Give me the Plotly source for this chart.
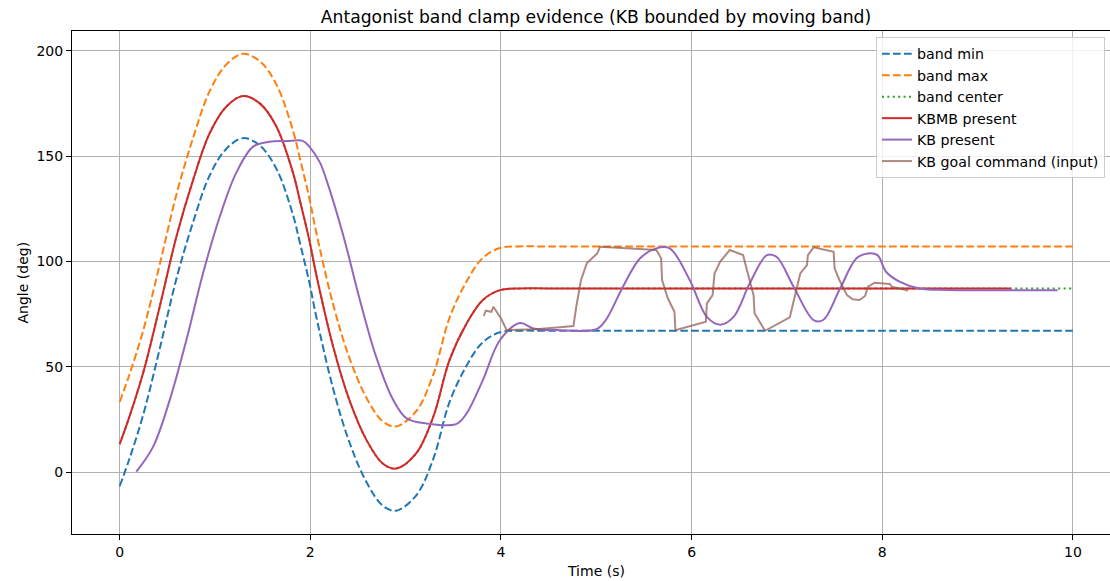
import plotly.graph_objects as go

# ---- data ----
center_t = [0, 0.1, 0.245, 0.42, 0.595, 0.77, 0.944, 1.12, 1.294, 1.47, 1.644, 1.82, 1.89, 1.99, 2.06,
            2.24, 2.41, 2.59, 2.76, 2.9, 3.11, 3.29, 3.46, 3.64, 3.81, 3.99, 4.2, 4.5, 10.0]
band_center = [13.3, 26, 46.9, 78.5, 111.7, 138.6, 160.8, 173.5, 178.5, 175, 164, 141.8, 129, 110, 94.3,
               59.5, 34.2, 15.2, 4.1, 1.7, 8.9, 26.3, 53.2, 70.6, 81.7, 86.4, 87.1, 87.1, 87.1]
band_min = [-6.7, 6, 26.9, 58.5, 91.7, 118.6, 140.8, 153.5, 158.5, 155, 144, 121.8, 109, 90, 74.3,
            39.5, 14.2, -4.8, -15.9, -18.3, -11.1, 6.3, 33.2, 50.6, 61.7, 66.4, 67.1, 67.1, 67.1]
band_max = [33.3, 46, 66.9, 98.5, 131.7, 158.6, 180.8, 193.5, 198.5, 195, 184, 161.8, 149, 130, 114.3,
            79.5, 54.2, 35.2, 24.1, 21.7, 28.9, 46.3, 73.2, 90.6, 101.7, 106.4, 107.1, 107.1, 107.1]

kbmb_t = [0, 0.1, 0.245, 0.42, 0.595, 0.77, 0.944, 1.12, 1.294, 1.47, 1.644, 1.82, 1.89, 1.99, 2.06,
          2.24, 2.41, 2.59, 2.76, 2.9, 3.11, 3.29, 3.46, 3.64, 3.81, 3.99, 4.2, 4.5, 9.35]
kbmb = [13.3, 26, 46.9, 78.5, 111.7, 138.6, 160.8, 173.5, 178.5, 175, 164, 141.8, 129, 110, 94.3,
        59.5, 34.2, 15.2, 4.1, 1.7, 8.9, 26.3, 53.2, 70.6, 81.7, 86.4, 87.2, 87.2, 87.2]

kb_t = [0.175, 0.35, 0.525, 0.7, 0.874, 1.05, 1.22, 1.4, 1.57, 1.75, 1.92, 1.99, 2.1, 2.17, 2.34,
        2.52, 2.69, 2.87, 3.01, 3.22, 3.53, 3.64, 3.81, 3.99, 4.2, 4.34, 4.58, 5.0, 5.1, 5.28,
        5.46, 5.63, 5.77, 5.98, 6.16, 6.3, 6.44, 6.61, 6.79, 6.89, 7.07, 7.28, 7.38, 7.55, 7.73,
        7.85, 7.95, 8.04, 8.18, 8.39, 8.7, 9.84]
kb_present = [0.2, 12, 34.2, 62.7, 94.3, 121.2, 141.8, 154.5, 156.8, 157.1, 157.2, 154.5, 147, 138.6, 113.3,
              81.7, 54.8, 34.2, 25.5, 23.1, 22.8, 27.9, 43.7, 62.7, 70.8, 68.2, 67.4, 67.8, 72.2, 88,
              101.5, 106.2, 106.2, 91.2, 73.7, 70, 73.7, 89.6, 103, 102.2, 88, 72.2, 72.2, 86.4, 101.5,
              103.8, 103, 95.1, 90.4, 87.2, 86.5, 86.3]

goal_t = [3.82, 3.84, 3.9, 3.92, 4.0, 4.06, 4.37, 4.76, 4.79, 4.84, 4.9, 4.97, 5.01, 5.04, 5.63,
          5.68, 5.69, 5.75, 5.82, 5.83, 6.15, 6.16, 6.22, 6.24, 6.3, 6.4, 6.54, 6.58, 6.65, 6.66,
          6.77, 7.03, 7.08, 7.14, 7.21, 7.22, 7.28, 7.49, 7.5, 7.55, 7.63, 7.69, 7.76, 7.82, 7.85,
          7.92, 8.08, 8.1, 8.25, 8.27]
kb_goal = [74.1, 76.6, 76.1, 78.5, 73, 67.4, 67.8, 69.3, 78.5, 91.2, 99.1, 102.2, 103.8, 107, 105.4,
           101.5, 91.2, 82.5, 76.1, 67.4, 71.4, 80.1, 84, 94.3, 99.9, 105.4, 103, 95.9, 84, 75.4,
           67.1, 73.5, 83.2, 94.3, 98.3, 103, 106.7, 104.6, 96.7, 91.2, 84, 82, 81.7, 83.6, 88,
           89.9, 89.3, 88, 86.4, 86.1]

x_ticks = [0, 2, 4, 6, 8, 10]
y_ticks = [0, 50, 100, 150, 200]

FONT = "DejaVu Sans"
W, H = 1110, 581
L, T, B = 72, 31, 47

fig = go.Figure()
sp = dict(shape="spline", smoothing=1.0)
fig.add_trace(go.Scatter(x=center_t, y=band_min, mode="lines", name="band min",
                         line=dict(color="#1f77b4", width=2, dash="7.7px,3.3px", **sp)))
fig.add_trace(go.Scatter(x=center_t, y=band_max, mode="lines", name="band max",
                         line=dict(color="#ff7f0e", width=2, dash="7.7px,3.3px", **sp)))
fig.add_trace(go.Scatter(x=center_t, y=band_center, mode="lines", name="band center",
                         line=dict(color="#2ca02c", width=2, dash="2px,3.4px", **sp)))
fig.add_trace(go.Scatter(x=kbmb_t, y=kbmb, mode="lines", name="KBMB present",
                         line=dict(color="#d62728", width=2, **sp)))
fig.add_trace(go.Scatter(x=kb_t, y=kb_present, mode="lines", name="KB present",
                         line=dict(color="#9467bd", width=2, **sp)))
fig.add_trace(go.Scatter(x=goal_t, y=kb_goal, mode="lines", name="KB goal command (input)",
                         line=dict(color="rgba(140,86,75,0.7)", width=2)))

axis_common = dict(showgrid=True, gridcolor="#b0b0b0", gridwidth=1, zeroline=False,
                   showline=True, linecolor="black", linewidth=1,
                   ticks="outside", ticklen=5, tickwidth=1, tickcolor="black",
                   tickfont=dict(family=FONT, size=14, color="black"))

fig.update_layout(
    width=W, height=H,
    margin=dict(l=L, r=0, t=T, b=B, pad=0),
    paper_bgcolor="white", plot_bgcolor="white",
    font=dict(family=FONT, size=14, color="black"),
    title=dict(text="Antagonist band clamp evidence (KB bounded by moving band)",
               x=596 / W, xref="container", xanchor="center",
               y=1 - 17 / H, yref="container", yanchor="middle",
               font=dict(family=FONT, size=17.2, color="black")),
    xaxis=dict(range=[-0.5, 10.389], tickvals=x_ticks, ticktext=[str(v) for v in x_ticks],
               mirror=True, **axis_common),
    yaxis=dict(range=[-29.35, 209.35], tickvals=y_ticks, ticktext=[str(v) for v in y_ticks],
               mirror=False, **axis_common),
    showlegend=True,
    legend=dict(x=(876 - L) / (W - L), y=0.988, xanchor="left", yanchor="top",
                bgcolor="rgba(255,255,255,0.8)", bordercolor="#cccccc", borderwidth=1,
                font=dict(family=FONT, size=14.2, color="black"), itemwidth=30,
                tracegroupgap=0),
    annotations=[
        dict(text="Time (s)", xref="paper", yref="paper", x=(596 - L) / (W - L),
             y=(H - B - 571) / (H - B - T), xanchor="center", yanchor="middle",
             showarrow=False, font=dict(family=FONT, size=14, color="black")),
        dict(text="Angle (deg)", xref="paper", yref="paper", x=(22 - L) / (W - L),
             y=0.5, xanchor="center", yanchor="middle", textangle=-90,
             showarrow=False, font=dict(family=FONT, size=14, color="black")),
    ],
)

fig.write_html("out.html")
